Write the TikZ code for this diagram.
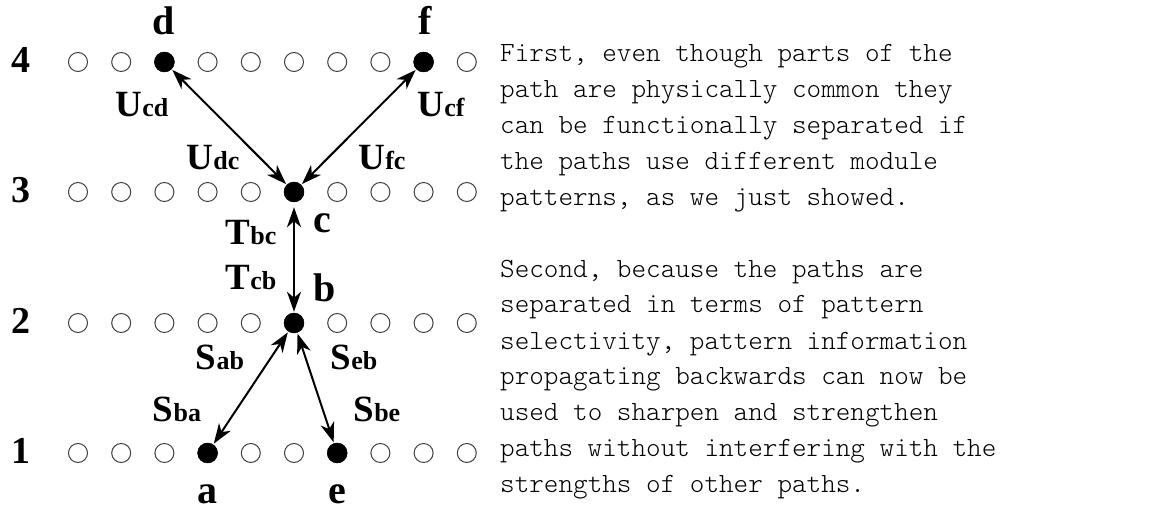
\documentclass[tikz,border=0pt]{standalone}
\usepackage{fontspec}
\setmainfont{Liberation Serif}
\setmonofont{lmmonolt10-regular.otf}
\usetikzlibrary{arrows.meta}
\newcommand\wlabel[2]{{\fontsize{37}{37}\selectfont #1}{\fontsize{26}{26}\selectfont #2}}
\begin{document}
\begin{tikzpicture}[x=1pt,y=-1pt,
  unit/.style={circle,draw=black!75,line width=1pt,minimum size=19pt,inner sep=0pt},
  active/.style={circle,fill=black,draw=black,minimum size=20pt,inner sep=0pt},
  rowlab/.style={font=\bfseries\fontsize{38}{38}\selectfont,anchor=base,inner sep=0pt},
  unitlab/.style={font=\bfseries\fontsize{40}{40}\selectfont,anchor=base,inner sep=0pt},
  wlab/.style={font=\bfseries,anchor=base,inner sep=0pt},
  link/.style={line width=2pt,
    arrows={Stealth[length=20pt,width=14pt,inset=6pt]-Stealth[length=20pt,width=14pt,inset=6pt]},
    shorten <=1pt,shorten >=1pt},
  para/.style={font=\ttfamily\fontsize{27.8}{36}\selectfont,align=left,anchor=base west,inner sep=0pt}]
\useasboundingbox (0,0) rectangle (1165,510);

% rows of units
\foreach \r/\y in {1/453,2/323,3/192,4/62}{
  \node[rowlab] (row\r) at (21,\y+11) {\r};
  \foreach \c in {0,...,9}{
    \node[unit] (u\r-\c) at (78+43.2*\c,\y) {};
  }
}

% active units
\node[active] (d) at (u4-2) {};
\node[active] (f) at (u4-8) {};
\node[active] (c) at (u3-5) {};
\node[active] (b) at (u2-5) {};
\node[active] (a) at (u1-3) {};
\node[active] (e) at (u1-6) {};

\node[unitlab] (ld) at (164,35) {d};
\node[unitlab] (lf) at (425,35) {f};
\node[unitlab] (lc) at (322,233) {c};
\node[unitlab] (lb) at (325,302) {b};
\node[unitlab] (la) at (207,503) {a};
\node[unitlab] (le) at (337,503) {e};

% connections
\draw[link] (d) -- (c);
\draw[link] (f) -- (c);
\draw[link,shorten >=5pt] (b) -- (c);
\draw[link] (a) -- (b);
\draw[link] (e) -- (b);

% weight labels
\node[wlab] (wcd) at (142,117) {\wlabel{U}{cd}};
\node[wlab] (wcf) at (441,117) {\wlabel{U}{cf}};
\node[wlab] (wdc) at (213,170) {\wlabel{U}{dc}};
\node[wlab] (wfc) at (382,170) {\wlabel{U}{fc}};
\node[wlab] (wbc) at (251,245) {\wlabel{T}{bc}};
\node[wlab] (wcb) at (251,290) {\wlabel{T}{cb}};
\node[wlab] (wab) at (220,370) {\wlabel{S}{ab}};
\node[wlab] (web) at (354,370) {\wlabel{S}{eb}};
\node[wlab] (wba) at (177,422) {\wlabel{S}{ba}};
\node[wlab] (wbe) at (377,422) {\wlabel{S}{be}};

% explanatory text (anchored at the baseline of each last line)
\node[para] (p1) at (500,206) {First, even though parts of the\\
path are physically common they\\
can be functionally separated if\\
the paths use different module\\
patterns, as we just showed.};
\node[para] (p2) at (500,493) {Second, because the paths are\\
separated in terms of pattern\\
selectivity, pattern information\\
propagating backwards can now be\\
used to sharpen and strengthen\\
paths without interfering with the\\
strengths of other paths.};
\end{tikzpicture}
\end{document}
